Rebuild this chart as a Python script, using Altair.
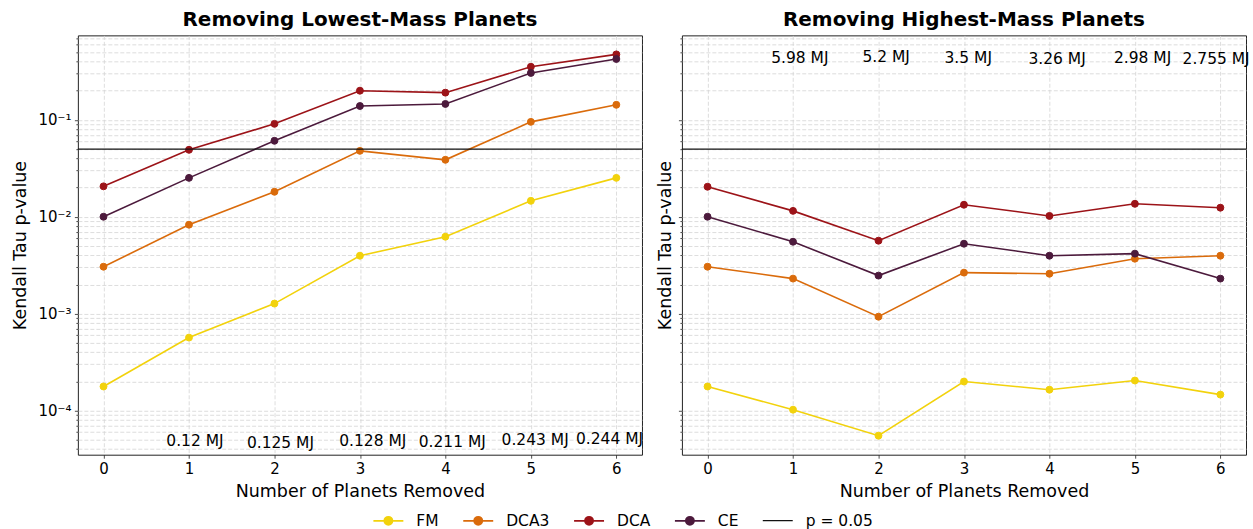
import altair as alt
import pandas as pd

# ---------------- data ----------------
removed = [0, 1, 2, 3, 4, 5, 6]
series = ["FM", "DCA3", "DCA", "CE"]
colors = ["#F2D20C", "#DA6B0B", "#9C1318", "#4C1A3C"]

low_fm = [1.77e-4, 5.66e-4, 1.27e-3, 3.96e-3, 6.22e-3, 1.46e-2, 2.52e-2]
low_dca3 = [3.05e-3, 8.28e-3, 1.81e-2, 0.0479, 0.0387, 0.0954, 0.143]
low_dca = [0.0206, 0.0491, 0.091, 0.200, 0.191, 0.353, 0.474]
low_ce = [0.0100, 0.0252, 0.0608, 0.139, 0.146, 0.305, 0.425]

high_fm = [1.77e-4, 1.02e-4, 5.5e-5, 1.99e-4, 1.64e-4, 2.04e-4, 1.46e-4]
high_dca3 = [3.05e-3, 2.30e-3, 9.3e-4, 2.65e-3, 2.58e-3, 3.69e-3, 3.96e-3]
high_dca = [0.0204, 0.0115, 5.66e-3, 0.0133, 0.0102, 0.0136, 0.0124]
high_ce = [0.0100, 5.52e-3, 2.47e-3, 5.27e-3, 3.96e-3, 4.16e-3, 2.30e-3]

low_labels = ["0.12 MJ", "0.125 MJ", "0.128 MJ", "0.211 MJ", "0.243 MJ", "0.244 MJ"]
low_label_x = [1.07, 2.07, 3.15, 4.08, 5.05, 5.92]
low_label_y = [4.8e-5, 4.65e-5, 4.8e-5, 4.75e-5, 4.95e-5, 5.1e-5]

high_labels = ["5.98 MJ", "5.2 MJ", "3.5 MJ", "3.26 MJ", "2.98 MJ", "2.755 MJ"]
high_label_x = [1.08, 2.09, 3.05, 4.09, 5.09, 5.95]
high_label_y = [0.432, 0.45, 0.432, 0.42, 0.432, 0.42]

p_threshold = 0.05
p_label = "p = 0.05"

y_domain = [3.5e-5, 0.745]
x_domain = [-0.3, 6.3]

FONT = "DejaVu Sans"


def long_df(values_by_series):
    rows = []
    for s, vals in zip(series, values_by_series):
        for x, v in zip(removed, vals):
            rows.append({"x": x, "p": v, "series": s})
    return pd.DataFrame(rows)


low_df = long_df([low_fm, low_dca3, low_dca, low_ce])
high_df = long_df([high_fm, high_dca3, high_dca, high_ce])
low_text = pd.DataFrame({"x": low_label_x, "y": low_label_y, "t": low_labels})
high_text = pd.DataFrame({"x": high_label_x, "y": high_label_y, "t": high_labels})
rule_df = pd.DataFrame({"y": [p_threshold], "lab": [p_label]})

# y-axis tick positions (major + minor decades)
y_ticks = []
for e in range(-5, 1):
    for m in range(1, 10):
        v = m * 10.0 ** e
        if y_domain[0] <= v <= y_domain[1]:
            y_ticks.append(float(f"{v:.6g}"))

is_major = "abs(datum.value / pow(10, round(log(datum.value) / LN10)) - 1) < 1e-6"
ex = "round(log(datum.value) / LN10)"
sup = {-1: "10⁻¹", -2: "10⁻²", -3: "10⁻³", -4: "10⁻⁴"}
inner = " : ".join(f"{ex} == {k} ? '{v}'" for k, v in sup.items()) + " : ''"
label_expr = f"({is_major}) ? ({inner}) : ''"

LC_PATH = ("M-1,0L1,0M-0.27,0A0.27,0.27,0,1,0,0.27,0"
           "A0.27,0.27,0,1,0,-0.27,0Z")

series_scale = alt.Scale(domain=series, range=colors)
series_legend = alt.Legend(
    title=None, orient="none", legendX=295, legendY=470,
    direction="horizontal", symbolType=LC_PATH, symbolSize=900,
    symbolStrokeWidth=1.8, labelFontSize=15.5, labelFont=FONT,
    labelColor="black", labelOffset=12, columnPadding=20,
    symbolOpacity=1,
)
stroke_enc = alt.Stroke("series:N", scale=series_scale, sort=series, legend=series_legend)
fill_enc = alt.Fill("series:N", scale=series_scale, sort=series, legend=series_legend)

dash_enc = alt.StrokeDash(
    "lab:N",
    scale=alt.Scale(domain=[p_label], range=[[1, 0]]),
    legend=alt.Legend(
        title=None, orient="none", legendX=685, legendY=470,
        symbolType="M-1,0L1,0", symbolSize=900, symbolStrokeWidth=1.3,
        symbolStrokeColor="#111111", labelFontSize=15.5, labelFont=FONT,
        labelColor="black", labelOffset=12,
    ),
)


def panel(df, tdf, title, show_labels):
    x_enc = alt.X(
        "x:Q",
        scale=alt.Scale(domain=x_domain, nice=False, zero=False),
        axis=alt.Axis(values=removed, title="Number of Planets Removed",
                      format="d", labelAngle=0),
    )
    y_axis = alt.Axis(
        values=y_ticks, title="Kendall Tau p-value",
        labelExpr=label_expr if show_labels else "''",
        labels=show_labels,
        tickSize={"condition": {"test": is_major, "value": 3.5}, "value": 2},
        titlePadding=8 if show_labels else 4,
    )
    y_enc = alt.Y("p:Q", scale=alt.Scale(type="log", domain=y_domain, nice=False),
                  axis=y_axis)

    base = alt.Chart(df)
    lines = base.mark_line(strokeWidth=1.6).encode(
        x=x_enc, y=y_enc, stroke=stroke_enc, order=alt.Order("x:Q"))
    pts = base.mark_circle(size=48, opacity=1, strokeWidth=1).encode(
        x=x_enc, y=y_enc, fill=fill_enc, stroke=stroke_enc)
    rule = alt.Chart(rule_df).mark_rule(color="#111111", strokeWidth=1.2).encode(
        y=alt.Y("y:Q"), strokeDash=dash_enc)
    text = alt.Chart(tdf).mark_text(fontSize=15.5, font=FONT, color="black").encode(
        x=alt.X("x:Q"), y=alt.Y("y:Q"), text="t:N")
    return alt.layer(lines, pts, rule, text).properties(
        width=565, height=420,
        title=alt.TitleParams(title, fontSize=20, fontWeight="bold", font=FONT,
                              color="black", offset=5, anchor="middle"),
    )


left = panel(low_df, low_text, "Removing Lowest-Mass Planets", True)
right = panel(high_df, high_text, "Removing Highest-Mass Planets", False)

chart = (
    alt.hconcat(left, right, spacing=40, bounds="flush")
    .resolve_scale(stroke="shared", fill="shared", strokeDash="shared")
    .properties(padding={"left": 11, "top": 9, "right": 2, "bottom": 2})
    .configure_view(stroke="#222222", strokeWidth=1)
    .configure_axis(
        domain=False, grid=True, gridColor="#d4d4d4", gridDash=[4, 2],
        gridWidth=0.8, tickColor="#222222", tickWidth=0.8,
        labelFont=FONT, titleFont=FONT, labelFontSize=15, titleFontSize=17.5,
        labelColor="black", titleColor="black", titleFontWeight="normal",
        labelPadding=3.5,
    )
    .configure_axisX(tickSize=3.5, titlePadding=6)
)

chart.save("out.html", embed_options={"renderer": "svg", "actions": False})
